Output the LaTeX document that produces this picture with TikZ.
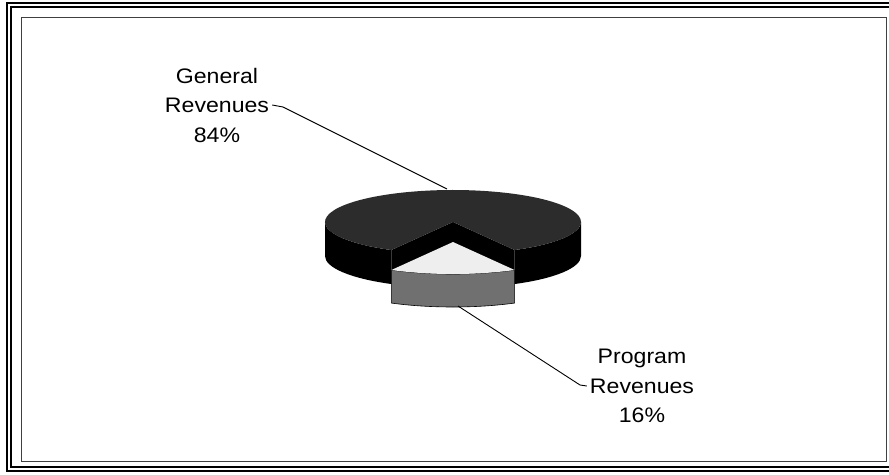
\documentclass[tikz,border=0pt]{standalone}
\usepackage{fontspec}
\setmainfont[FakeStretch=1.1]{Liberation Sans}
\definecolor{topdark}{HTML}{2C2C2C}
\definecolor{slicetop}{HTML}{EEEEEE}
\definecolor{slicegray}{HTML}{707070}
\begin{document}
\begin{tikzpicture}[x=1pt,y=1pt,
  lbl/.style={font=\fontsize{21}{29.5}\selectfont, align=center, inner sep=0pt},
  leader/.style={draw=black, line width=0.9pt},
  ell/.style={x radius=128pt, y radius=32pt}]
\useasboundingbox (0,0) rectangle (889,-474);
\clip (0,0) rectangle (889,-474);
% frames
\draw[line width=1.4pt] (7,-3) rectangle (900,-471);
\draw[line width=1.2pt] (11,-7) rectangle (900,-467);
\draw[line width=0.8pt, black!75] (21,-17) rectangle (886,-461);

% main pie (84%)
\coordinate (C) at (453,-222);
\coordinate (Cb) at (453,-256);
\fill[black] ([shift={(180:128pt and 32pt)}]C) arc[start angle=180, end angle=241.2, ell]
   -- ++(0,-34) arc[start angle=241.2, end angle=180, ell] -- cycle;
\fill[black] ([shift={(-61.2:128pt and 32pt)}]C) arc[start angle=-61.2, end angle=0, ell]
   -- ++(0,-34) arc[start angle=0, end angle=-61.2, ell] -- cycle;
\fill[black] (C) -- ([shift={(-61.2:128pt and 32pt)}]C) -- ++(0,-34) -- (Cb) -- cycle;
\fill[black] (C) -- ([shift={(241.2:128pt and 32pt)}]C) -- ++(0,-34) -- (Cb) -- cycle;
\fill[topdark] (C) -- ([shift={(-61.2:128pt and 32pt)}]C) arc[start angle=-61.2, end angle=241.2, ell] -- cycle;

% exploded slice (16%)
\coordinate (S) at (453,-242);
\filldraw[fill=slicegray, draw=black, line width=0.6pt] ([shift={(241.2:128pt and 32pt)}]S) arc[start angle=241.2, end angle=298.8, ell]
   -- ++(0,-33) arc[start angle=298.8, end angle=241.2, ell] -- cycle;
\fill[slicetop] (S) -- ([shift={(241.2:128pt and 32pt)}]S) arc[start angle=241.2, end angle=298.8, ell] -- cycle;

% labels
\node[lbl] (gen) at (217,-105) {General\\Revenues\\84\%};
\node[lbl] (prog) at (642,-386) {Program\\Revenues\\16\%};

% leaders
\coordinate (gK) at (283,-107);
\coordinate (gP) at (447,-189);
\draw[leader] ([xshift=3pt]gen.east) -- (gK) -- (gP);
\coordinate (pK) at (580,-385);
\coordinate (pP) at (458,-306);
\draw[leader] ([xshift=-3pt]prog.west) -- (pK) -- (pP);
\end{tikzpicture}
\end{document}
